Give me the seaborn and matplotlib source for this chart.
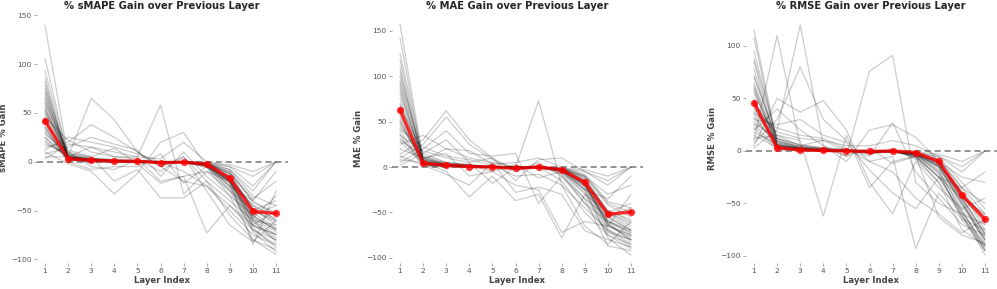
import numpy as np
import pandas as pd
import matplotlib
matplotlib.use("Agg")
import matplotlib.pyplot as plt
import seaborn as sns

layers = list(range(1, 12))

# ---------- sMAPE gain per series ----------
smape_lines = [
    [140, 5, 3, 1, 0, 0, 0, -3, -20, -55, -70],
    [106, 4, 2, 1, 0, -1, 0, -2, -15, -50, -60],
    [93, 6, 3, 2, 1, 0, 0, -4, -25, -65, -80],
    [86, 3, 1, 0, 0, -1, -1, -3, -18, -60, -75],
    [82, 2, 2, 1, 0, 0, 0, -2, -12, -48, -65],
    [75, 5, 1, 0, 1, -2, 0, -5, -30, -70, -85],
    [70, 3, 2, 1, 0, 0, -1, -3, -20, -58, -72],
    [66, 8, 3, 1, 0, -1, 0, -2, -15, -52, -68],
    [62, 4, 1, 0, 0, 0, 0, -4, -22, -62, -78],
    [58, 2, 0, 0, 0, -1, -1, -3, -18, -45, -60],
    [55, 6, 2, 1, 1, 0, 0, -2, -10, -40, -55],
    [52, 3, 1, 0, 0, -2, -1, -5, -28, -68, -88],
    [48, 5, 2, 1, 0, 0, 0, -3, -16, -55, -70],
    [45, 2, 1, 0, 0, -1, 0, -2, -12, -50, -62],
    [42, 4, 3, 2, 1, 0, 0, -1, -8, -35, -45],
    [40, 7, 2, 0, 0, -1, -1, -4, -20, -60, -82],
    [37, 3, 1, 0, 0, 0, 0, -3, -25, -72, -92],
    [35, 1, 0, 0, 0, -1, 0, -2, -14, -48, -58],
    [32, 5, 2, 1, 0, 0, 0, -6, -35, -80, -95],
    [30, 3, 1, 0, 0, 0, -1, -2, -10, -42, -52],
    [28, 10, 4, 2, 1, 0, 0, -3, -18, -65, -50],
    [25, 2, 0, 0, 0, 0, 0, -2, -8, -30, 0],
    [22, 4, 2, 1, 0, -1, 0, -4, -20, -85, -30],
    [20, 6, 3, 1, 0, 0, 0, -2, -12, -38, -20],
    [15, 20, 38, 25, 10, -5, 5, -20, -40, -60, -65],
    [12, 25, 20, 15, 8, 0, -10, -25, -50, -75, -85],
    [8, 15, 25, 18, 12, -15, 10, -15, -35, -55, -45],
    [5, 5, 65, 43, 10, -5, -20, -25, -45, -70, -80],
    [3, 18, 15, 10, 5, 58, -33, -10, -30, -50, -40],
    [10, -2, -10, -33, -12, 20, 30, -5, -20, -45, -55],
    [18, 8, 5, -20, -8, -37, -37, -20, -55, -80, -90],
    [45, 22, 10, 5, 3, -20, -15, -73, -45, -65, -75],
    [60, 10, -5, -8, 2, -10, 5, -30, -65, -82, -60],
    [35, 0, -8, -5, -5, 8, -22, -5, -25, -40, -10],
    [50, 12, 5, 14, -2, -22, -15, -10, -20, -58, -35],
    [25, 5, 15, 5, 5, 3, 20, 0, -5, -25, 0],
    [72, 4, 2, 1, 0, 0, 0, -2, -5, -15, 0],
    [65, 3, 1, 0, 0, 0, 0, -1, -3, -10, 0],
    [78, 4, 2, 1, 0, -1, 0, -3, -22, -66, -74],
    [54, 3, 1, 1, 0, 0, 0, -2, -17, -57, -69],
]
smape_mean = [42, 3, 1.5, 0.5, 0.5, -1, -0.5, -2.5, -17, -51, -53]

# ---------- MAE gain per series ----------
mae_lines = [
    [157, 8, 3, 1, 0, -1, 0, -3, -20, -60, -75],
    [142, 6, 2, 1, 0, 0, 0, -2, -15, -55, -70],
    [125, 10, 4, 2, 0, -1, 0, -4, -25, -68, -85],
    [118, 5, 2, 1, 0, -2, -1, -3, -18, -62, -80],
    [110, 4, 1, 0, 0, -1, 0, -2, -12, -50, -65],
    [100, 12, 3, 1, 1, -2, 0, -5, -30, -75, -90],
    [92, 6, 2, 1, 0, 0, -1, -3, -20, -60, -72],
    [88, 3, 1, 0, 0, -1, 0, -2, -15, -52, -68],
    [80, 8, 3, 1, 0, 0, 0, -4, -22, -65, -78],
    [75, 4, 2, 0, 0, -1, -1, -3, -18, -48, -60],
    [68, 15, 5, 2, 1, 0, 0, -2, -10, -42, -55],
    [62, 3, 1, 0, 0, -2, -1, -5, -28, -70, -88],
    [58, 7, 2, 1, 0, 0, 0, -3, -16, -55, -70],
    [52, 2, 1, 0, 0, -1, 0, -2, -12, -50, -62],
    [48, 5, 3, 2, 1, 0, 0, -1, -8, -38, -45],
    [45, 10, 2, 0, 0, -1, -1, -4, -20, -62, -82],
    [40, 3, 1, 0, 0, 0, 0, -3, -25, -78, -97],
    [36, 1, 0, 0, 0, -1, 0, -2, -14, -48, -58],
    [32, 6, 2, 1, 0, 0, 0, -6, -35, -87, -92],
    [28, 3, 1, 0, 0, 0, -1, -2, -10, -40, -50],
    [25, 35, 20, 10, 5, 0, 0, -3, -18, -65, -30],
    [14, 30, 62, 30, 10, -5, 5, -10, -40, -60, -70],
    [10, 25, 55, 25, 8, -2, 0, -15, -50, -75, -85],
    [5, 20, 40, 15, 12, 15, -40, -10, -35, -55, -45],
    [2, 15, 30, 5, -18, 0, 73, -20, -45, -70, -80],
    [8, 5, -5, -33, -10, -37, -30, -78, -30, -50, -40],
    [12, 2, -8, -20, 5, -28, -22, -30, -70, -80, -88],
    [20, 10, 15, -10, -5, -20, -25, -72, -60, -65, -75],
    [35, 18, 10, 5, 10, -15, 8, 10, -5, -20, 0],
    [50, 8, 20, 18, 3, 5, 10, 0, -10, -30, -20],
    [70, 4, 2, 1, 0, 0, 0, -2, -5, -15, 0],
    [55, 3, 1, 0, 0, 0, 0, -1, -3, -10, 0],
    [42, 22, 12, 8, 2, -10, -8, -20, -65, -85, -60],
    [30, 12, 5, 3, -5, 3, -12, -5, -25, -35, -10],
    [95, 9, 4, 2, 1, -3, 2, -8, -40, -72, -80],
    [105, 7, 3, 1, 0, -1, 0, -3, -22, -64, -76],
    [84, 5, 2, 1, 0, 0, 0, -2, -18, -58, -73],
]
mae_mean = [63, 4, 2, 0.5, 0, -1.5, 0, -3, -17, -52, -49.5]

# ---------- RMSE gain per series ----------
rmse_lines = [
    [115, 8, 3, 1, 0, -1, 0, -3, -15, -50, -85],
    [108, 6, 2, 1, 0, 0, 0, -2, -12, -45, -80],
    [95, 10, 4, 2, 0, -1, 0, -4, -20, -55, -95],
    [85, 5, 2, 1, 0, -2, -1, -3, -14, -48, -88],
    [78, 4, 1, 0, 0, -1, 0, -2, -10, -40, -75],
    [70, 12, 3, 1, 1, -2, 0, -5, -25, -60, -99],
    [65, 6, 2, 1, 0, 0, -1, -3, -15, -50, -82],
    [60, 3, 1, 0, 0, -1, 0, -2, -12, -42, -70],
    [55, 8, 3, 1, 0, 0, 0, -4, -18, -58, -90],
    [50, 4, 2, 0, 0, -1, -1, -3, -14, -38, -65],
    [46, 15, 5, 2, 1, 0, 0, -2, -8, -35, -60],
    [42, 3, 1, 0, 0, -2, -1, -5, -22, -62, -92],
    [38, 7, 2, 1, 0, 0, 0, -3, -12, -45, -78],
    [35, 2, 1, 0, 0, -1, 0, -2, -10, -40, -68],
    [32, 5, 3, 2, 1, 0, 0, -1, -6, -30, -55],
    [28, 10, 2, 0, 0, -1, -1, -4, -16, -52, -85],
    [25, 3, 1, 0, 0, 0, 0, -3, -20, -65, -95],
    [22, 1, 0, 0, 0, -1, 0, -2, -11, -42, -62],
    [18, 6, 2, 1, 0, 0, 0, -6, -30, -75, -90],
    [15, 3, 1, 0, 0, 0, -1, -2, -8, -35, -50],
    [10, 110, 5, 10, 0, -5, 27, -20, -45, -70, -80],
    [5, 50, 37, 48, 20, -30, -60, -10, -35, -55, -45],
    [3, 20, 120, 5, -5, 76, 91, -30, -50, -60, -70],
    [8, 30, 80, 30, 10, -10, -5, -93, -40, -65, -75],
    [12, 15, 10, -62, 15, -35, -10, -5, -63, -80, -88],
    [20, 40, 20, 5, -10, 20, 25, 13, -10, -25, -30],
    [30, 25, 30, 15, 8, -18, -40, -55, -25, -45, -60],
    [40, 18, 12, 10, 5, 5, 10, 5, -5, -20, 0],
    [58, 4, 2, 1, 0, 0, 0, -2, -5, -15, 0],
    [48, 3, 1, 0, 0, 0, 0, -1, -3, -10, 0],
    [36, 22, 15, 12, 2, -10, -20, -45, -60, -78, -65],
    [26, 12, 5, 3, -5, 3, -12, -5, -25, -35, -20],
    [72, 9, 4, 2, 1, -3, 2, -8, -30, -62, -94],
    [88, 12, 6, 3, 2, -2, 1, -6, -25, -58, -90],
    [62, 6, 2, 1, 0, 0, 0, -3, -14, -47, -84],
    [44, 4, 1, 0, 0, -1, 0, -2, -12, -44, -79],
]
rmse_mean = [46, 3, 1, 0.5, 0, -0.5, 0, -1.5, -10, -42, -65]

titles = ["% sMAPE Gain over Previous Layer",
          "% MAE Gain over Previous Layer",
          "% RMSE Gain over Previous Layer"]
ylabels = ["sMAPE % Gain", "MAE % Gain", "RMSE % Gain"]
ylims = [(-103.8, 152.4), (-105.7, 169.6), (-106.7, 131.4)]


def to_long(lines):
    rows = []
    for i, ln in enumerate(lines):
        for x, v in zip(layers, ln):
            rows.append({"series": i, "layer": x, "gain": v})
    return pd.DataFrame(rows)


sns.set_style("white")
plt.rcParams["font.family"] = ["DejaVu Sans"]

fig = plt.figure(figsize=(9.97, 2.89), dpi=100)
W, H = 997.0, 289.0
x_lo, x_hi = 0.65, 11.5
px_per_unit = 23.1
first_tick_px = [45.0, 400.0, 754.0]
top_px, bot_px = 13.0, 263.0
width_px = (x_hi - x_lo) * px_per_unit

datasets = [(smape_lines, smape_mean), (mae_lines, mae_mean), (rmse_lines, rmse_mean)]

for k, (lines, mean) in enumerate(datasets):
    left_px = first_tick_px[k] - (1 - x_lo) * px_per_unit
    ax = fig.add_axes([left_px / W, 1 - bot_px / H, width_px / W, (bot_px - top_px) / H])
    df = to_long(lines)
    sns.lineplot(data=df, x="layer", y="gain", units="series", estimator=None,
                 color="black", alpha=0.2, linewidth=0.9, ax=ax, legend=False)
    ax.axhline(0, color="#555555", alpha=0.8, linestyle="--", linewidth=1.1,
               dashes=(4, 2.5), zorder=3)
    mdf = pd.DataFrame({"layer": layers, "gain": mean})
    sns.lineplot(data=mdf, x="layer", y="gain", color="red", alpha=0.8,
                 linewidth=2.4, marker="o", markersize=5.2, markeredgewidth=0,
                 ax=ax, zorder=5)
    ax.set_xlim(x_lo, x_hi)
    ax.set_ylim(*ylims[k])
    ax.set_xticks(layers)
    ax.set_title(titles[k], fontsize=7.2, fontweight="bold", pad=3)
    ax.set_xlabel("Layer Index", fontsize=6.1, fontweight="bold", color="#444444", labelpad=1.5)
    ax.set_ylabel(ylabels[k], fontsize=6.1, fontweight="bold", color="#444444", labelpad=2)
    ax.tick_params(axis="both", which="major", labelsize=5.4, labelcolor="#555555",
                   length=2.5, width=0.7, color="#aaaaaa", pad=1.2,
                   left=True, bottom=True)
    for s in ax.spines.values():
        s.set_visible(False)
    ax.set_facecolor("white")

fig.savefig("out.png", dpi=100, facecolor="white")
